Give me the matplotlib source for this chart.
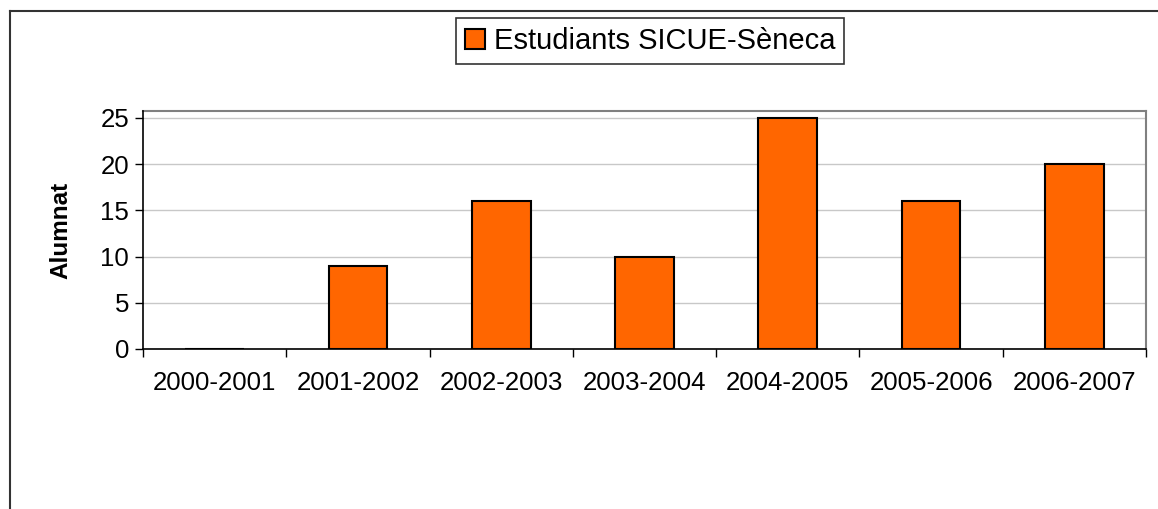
import numpy as np
import matplotlib.pyplot as plt
from matplotlib.lines import Line2D

plt.rcParams['font.family'] = ['Liberation Sans', 'DejaVu Sans']

cursos = ["2000-2001", "2001-2002", "2002-2003", "2003-2004",
          "2004-2005", "2005-2006", "2006-2007"]
alumnes = [0, 9, 16, 10, 25, 16, 20]
yticks = [0, 5, 10, 15, 20, 25]

W, H = 1158, 509
fig = plt.figure(figsize=(W / 100, H / 100), dpi=100)
ax = fig.add_axes([143 / W, 1 - 349 / H, (1146 - 143) / W, (349 - 111) / H])

x = np.arange(len(cursos))
ax.bar(x, alumnes, width=0.41, color="#ff6600", edgecolor="black",
       linewidth=1.5, label="Estudiants SICUE-Sèneca", zorder=2)

ax.set_xlim(-0.5, len(cursos) - 0.5)
ax.set_ylim(0, 25.75)
ax.set_yticks(yticks)
ax.grid(axis='y', color="#c8c8c8", linewidth=1, zorder=0)
ax.set_axisbelow(True)
ax.set_xticks(x)
ax.set_xticklabels(cursos, fontsize=18.6)
ax.set_xticks(np.arange(len(cursos) + 1) - 0.5, minor=True)
ax.tick_params(axis='x', which='major', length=0, pad=16)
ax.tick_params(axis='x', which='minor', length=6, width=1, direction='out')
ax.tick_params(axis='y', length=6, width=1, labelsize=18.6, pad=4)
ax.set_ylabel("Alumnat", fontsize=17.5, fontweight='bold', labelpad=20)

for s in ['top', 'right']:
    ax.spines[s].set_color("#808080")
    ax.spines[s].set_linewidth(1.5)
for s in ['left', 'bottom']:
    ax.spines[s].set_color("black")
    ax.spines[s].set_linewidth(1.2)
    ax.spines[s].set_zorder(3)

leg = fig.legend(loc='center', bbox_to_anchor=(650 / W, 1 - 41 / H),
                 fontsize=21, frameon=True, fancybox=False,
                 handlelength=0.7, handleheight=0.7, handletextpad=0.3,
                 borderpad=0.3, borderaxespad=0)
leg.get_frame().set_edgecolor("black")
leg.get_frame().set_linewidth(1.2)

# outer frame of the chart
fig.add_artist(Line2D([10 / W, 10 / W], [0, 1 - 11 / H], color="#333333", linewidth=1.5))
fig.add_artist(Line2D([10 / W, 1], [1 - 11 / H, 1 - 11 / H], color="#333333", linewidth=1.5))

fig.savefig("out.png", dpi=100)
